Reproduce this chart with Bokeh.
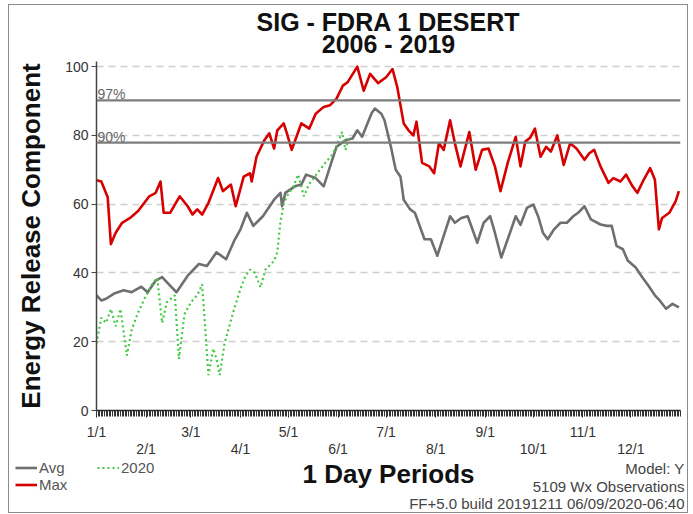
from bokeh.plotting import figure
from bokeh.layouts import column
from bokeh.models import (ColumnDataSource, FixedTicker, LinearAxis, Span,
                          Legend, LegendItem, Range1d)
from bokeh.core.properties import value
from bokeh.embed import file_html
from bokeh.resources import INLINE

# ---------------- data ----------------
title_lines = ["SIG - FDRA 1 DESERT", "2006 - 2019"]
x_title = "1 Day Periods"
y_title = "Energy Release Component"

month_days = [0, 31, 59, 90, 120, 151, 181, 212, 243, 273, 304, 334]
month_labels = ["1/1", "2/1", "3/1", "4/1", "5/1", "6/1",
                "7/1", "8/1", "9/1", "10/1", "11/1", "12/1"]
y_ticks = [0, 20, 40, 60, 80, 100]

avg_day = [0, 3, 6, 11, 17, 22, 28, 32, 37, 41, 46, 50, 57, 64, 69, 75, 81, 86,
           90, 94, 98, 104, 111, 115, 116, 118, 124, 128, 131, 137, 142, 146,
           150, 156, 160, 163, 166, 172, 174, 178, 180, 184, 187, 190, 192, 196,
           199, 205, 209, 213, 217, 221, 224, 228, 232, 238, 242, 246, 249, 253,
           257, 262, 265, 269, 273, 276, 279, 282, 286, 290, 294, 298, 301, 305,
           309, 315, 319, 322, 325, 329, 332, 337, 341, 345, 349, 352, 356, 360, 364]
avg_val = [33.5, 32.0, 32.5, 34.0, 35.0, 34.4, 36.0, 34.4, 37.8, 38.8, 36.3, 34.4,
           39.2, 42.6, 42.0, 46.0, 44.0, 49.3, 52.7, 57.5, 53.7, 56.5, 61.3, 63.3,
           59.4, 63.3, 65.2, 65.7, 68.6, 67.6, 65.2, 71.0, 76.7, 78.7, 79.1, 81.5,
           79.6, 86.5, 87.8, 86.3, 84.4, 76.7, 70.0, 68.0, 61.3, 58.5, 57.5, 49.8,
           49.8, 45.0, 50.8, 56.5, 54.6, 56.0, 56.5, 48.8, 54.6, 56.5, 51.7, 44.5,
           49.8, 56.5, 54.0, 58.9, 59.9, 56.5, 51.7, 49.8, 52.7, 54.6, 54.6, 56.5,
           57.5, 59.4, 55.6, 54.1, 53.7, 53.7, 47.9, 46.9, 43.6, 41.6, 38.8, 36.3,
           33.5, 32.0, 29.6, 31.0, 30.0]

max_day = [0, 3, 7, 9, 12, 16, 21, 26, 33, 37, 40, 42, 46, 52, 57, 60, 63, 66, 70,
           76, 79, 84, 87, 92, 96, 97, 100, 105, 108, 111, 113, 117, 119, 122, 125,
           128, 133, 137, 142, 146, 150, 154, 157, 163, 167, 171, 176, 181, 185,
           188, 192, 195, 198, 200, 203.5, 208, 211, 214, 217, 221, 224, 227.5,
           233, 237, 241, 245, 249, 252.5, 257, 262, 265, 268, 271, 274, 277.5,
           281, 284, 288, 290, 292, 296, 300, 305, 308, 311, 315, 320, 323, 327.5,
           331, 335, 338, 342, 346, 349, 351.5, 353.5, 358, 362, 364]
max_val = [67.0, 66.6, 62.0, 48.4, 51.7, 54.6, 56.0, 58.0, 62.3, 63.3, 66.6, 57.5,
           57.5, 62.3, 59.4, 57.0, 58.5, 57.0, 60.4, 67.6, 63.8, 65.7, 59.4, 68.0,
           69.0, 66.6, 73.8, 78.7, 80.6, 76.2, 81.5, 83.5, 80.6, 75.8, 79.6, 83.5,
           82.0, 86.3, 88.3, 88.8, 90.7, 94.5, 95.5, 100.0, 93.0, 97.9, 95.2, 96.9,
           99.3, 94.0, 83.5, 81.5, 80.0, 84.0, 72.0, 71.0, 69.0, 77.7, 75.8, 84.4,
           77.7, 71.0, 81.0, 70.0, 75.8, 76.2, 71.0, 63.8, 72.0, 79.6, 71.0, 78.2,
           79.3, 82.0, 73.8, 76.7, 75.3, 80.0, 75.8, 71.4, 77.7, 76.2, 72.9, 74.8,
           75.8, 71.0, 66.2, 67.6, 66.6, 68.6, 65.2, 63.3, 67.1, 70.5, 67.1, 52.7,
           56.0, 57.5, 60.9, 63.8]

y2020_day = [0, 3, 6, 9, 12, 15, 19, 22, 26, 30, 35, 38, 41, 44, 49, 51.5, 55, 59,
             63, 66, 70, 73, 75, 77, 80, 86, 90, 93, 96, 99, 102.5, 105.6, 111, 113,
             115, 117, 119, 123, 126, 129.6, 132.7, 138, 143, 148, 153.5, 155.6, 158]
y2020_val = [19.5, 27.0, 25.5, 29.5, 24.5, 29.5, 16.0, 23.5, 28.5, 32.5, 37.0, 38.5,
             25.5, 31.5, 33.5, 15.0, 28.0, 31.5, 33.5, 36.7, 10.3, 18.0, 15.0, 10.3,
             19.5, 29.5, 35.4, 39.0, 41.0, 40.0, 35.8, 41.0, 43.5, 46.0, 55.0, 60.0,
             62.3, 65.2, 68.6, 62.3, 65.7, 69.0, 72.0, 74.8, 81.0, 75.8, 79.6]

pct_levels = [90.2, 77.9]
pct_labels = ["97%", "90%"]

series_names = ["Avg", "Max", "2020"]
footer_lines = ["Model: Y", "5109 Wx Observations",
                "FF+5.0 build 20191211 06/09/2020-06:40"]

# ---------------- styles ----------------
FONT = "Liberation Sans"
AVG_STYLE = dict(line_color="#6f6f6f", line_width=2.6, line_join="round")
MAX_STYLE = dict(line_color="#d60000", line_width=2.6, line_join="round")
Y20_STYLE = dict(line_color="#45c845", line_width=2.2, line_dash="2 3")

W = 678     # chart box width
H0 = 53     # title strip
H1 = 401    # main plot
H2 = 53     # footer strip
PLOT_L, PLOT_R = 87, 7
CX = PLOT_L + (W - PLOT_L - PLOT_R) / 2   # centre of the plotting area


def no_align(fig):
    if "frame_align" in fig.properties():
        fig.frame_align = False


def strip(height):
    f = figure(width=W, height=height, output_backend="svg", toolbar_location=None,
               x_range=Range1d(0, W), y_range=Range1d(height, 0),
               x_axis_type=None, y_axis_type=None,
               min_border=0, min_border_left=0, min_border_right=0,
               min_border_top=0, min_border_bottom=0, outline_line_color=None,
               background_fill_color="white", border_fill_color="white")
    f.xgrid.visible = False
    f.ygrid.visible = False
    no_align(f)
    return f


# ---------------- title strip ----------------
p0 = strip(H0)
p0.text(x=[CX, CX], y=[16, 38], text=title_lines,
        text_font=value(FONT), text_font_size="25px", text_font_style="bold",
        text_color="#111111", text_align="center", text_baseline="middle")

# ---------------- main figure ----------------
p = figure(width=W, height=H1, output_backend="svg", toolbar_location=None,
           x_range=Range1d(0, 365), y_range=Range1d(0, 101.5),
           min_border_left=PLOT_L, min_border_right=PLOT_R, min_border_top=3,
           min_border_bottom=49, outline_line_color=None,
           background_fill_color="white", border_fill_color="white")
no_align(p)

# grid
p.xgrid.visible = False
p.ygrid.ticker = FixedTicker(ticks=[t for t in y_ticks if t > 0])
p.ygrid.grid_line_color = "#cfcfcf"
p.ygrid.grid_line_dash = "7 5"
p.ygrid.grid_line_width = 1.5

# y axis
ya = p.yaxis[0]
ya.ticker = FixedTicker(ticks=y_ticks)
ya.axis_line_color = "#444444"
ya.axis_line_width = 1.5
ya.major_tick_line_color = "#444444"
ya.major_tick_out = 5
ya.major_tick_in = 0
ya.minor_tick_line_color = None
ya.major_label_standoff = 3
ya.major_label_text_font = FONT
ya.major_label_text_font_size = "14px"
ya.major_label_text_color = "#333333"
ya.axis_label = y_title
ya.axis_label_text_font = FONT
ya.axis_label_text_font_size = "26px"
ya.axis_label_text_font_style = "bold"
ya.axis_label_text_color = "#111111"
ya.axis_label_standoff = 16

# x axis row 1 (odd months) with daily minor ticks
xa = p.xaxis[0]
xa.ticker = FixedTicker(ticks=month_days, minor_ticks=list(range(366)))
xa.major_label_overrides = {d: (lab if i % 2 == 0 else "")
                            for i, (d, lab) in enumerate(zip(month_days, month_labels))}
xa.axis_line_color = "#222222"
xa.axis_line_width = 1.5
xa.major_tick_line_color = "#222222"
xa.major_tick_out = 7
xa.major_tick_in = 0
xa.minor_tick_line_color = "#333333"
xa.minor_tick_out = 6
xa.minor_tick_in = 0
xa.major_label_standoff = 6
xa.major_label_text_font = FONT
xa.major_label_text_font_size = "14px"
xa.major_label_text_color = "#333333"

# x axis row 2 (even months)
xa2 = LinearAxis(ticker=FixedTicker(ticks=month_days[1::2]),
                 major_label_overrides={d: lab for d, lab in
                                        zip(month_days[1::2], month_labels[1::2])})
xa2.axis_line_color = None
xa2.major_tick_line_color = None
xa2.minor_tick_line_color = None
xa2.major_label_standoff = -8
xa2.major_label_text_font = FONT
xa2.major_label_text_font_size = "14px"
xa2.major_label_text_color = "#333333"
p.add_layout(xa2, "below")

# percentile lines
for lvl in pct_levels:
    p.add_layout(Span(location=lvl, dimension="width", line_color="#7d7d7d",
                      line_width=2.2))
p.text(x=[0.6] * len(pct_levels), y=pct_levels, text=pct_labels,
       text_font=value(FONT), text_font_size="14px", text_color="#666666",
       text_baseline="bottom", text_align="left", y_offset=2)

# series
p.line("x", "y", source=ColumnDataSource(dict(x=avg_day, y=avg_val)), **AVG_STYLE)
p.line("x", "y", source=ColumnDataSource(dict(x=max_day, y=max_val)), **MAX_STYLE)
p.line("x", "y", source=ColumnDataSource(dict(x=y2020_day, y=y2020_val)), **Y20_STYLE)

# ---------------- footer strip: legend, x title, notes ----------------
p2 = strip(H2)
nan = float("nan")
g_avg = p2.line(x=[nan, nan], y=[nan, nan], **AVG_STYLE)
g_max = p2.line(x=[nan, nan], y=[nan, nan], **MAX_STYLE)
g_20 = p2.line(x=[nan, nan], y=[nan, nan], **Y20_STYLE)

common = dict(background_fill_alpha=0, border_line_color=None, padding=0, margin=0,
              spacing=0, glyph_width=22, glyph_height=17, label_height=17,
              label_standoff=2, label_text_font=FONT, label_text_font_size="15px",
              label_text_color="#555555", orientation="vertical")
leg1 = Legend(items=[LegendItem(label=series_names[0], renderers=[g_avg]),
                     LegendItem(label=series_names[1], renderers=[g_max])],
              location=(6, H2 - 34), **common)
leg2 = Legend(items=[LegendItem(label=series_names[2], renderers=[g_20])],
              location=(88, H2 - 17), **common)
p2.add_layout(leg1)
p2.add_layout(leg2)

p2.text(x=[CX], y=[14], text=[x_title], text_font=value(FONT),
        text_font_size="26px", text_font_style="bold", text_color="#111111",
        text_align="center", text_baseline="middle")
p2.text(x=[675] * 3, y=[9, 27, 44], text=footer_lines, text_font=value(FONT),
        text_font_size="15px", text_color="#444444",
        text_align="right", text_baseline="middle")

layout = column(p0, p, p2, spacing=0,
                styles={"margin-left": "9px", "margin-top": "5px",
                        "outline": "1px solid #8c8c8c"})

open("out.html", "w").write(file_html(layout, INLINE))
